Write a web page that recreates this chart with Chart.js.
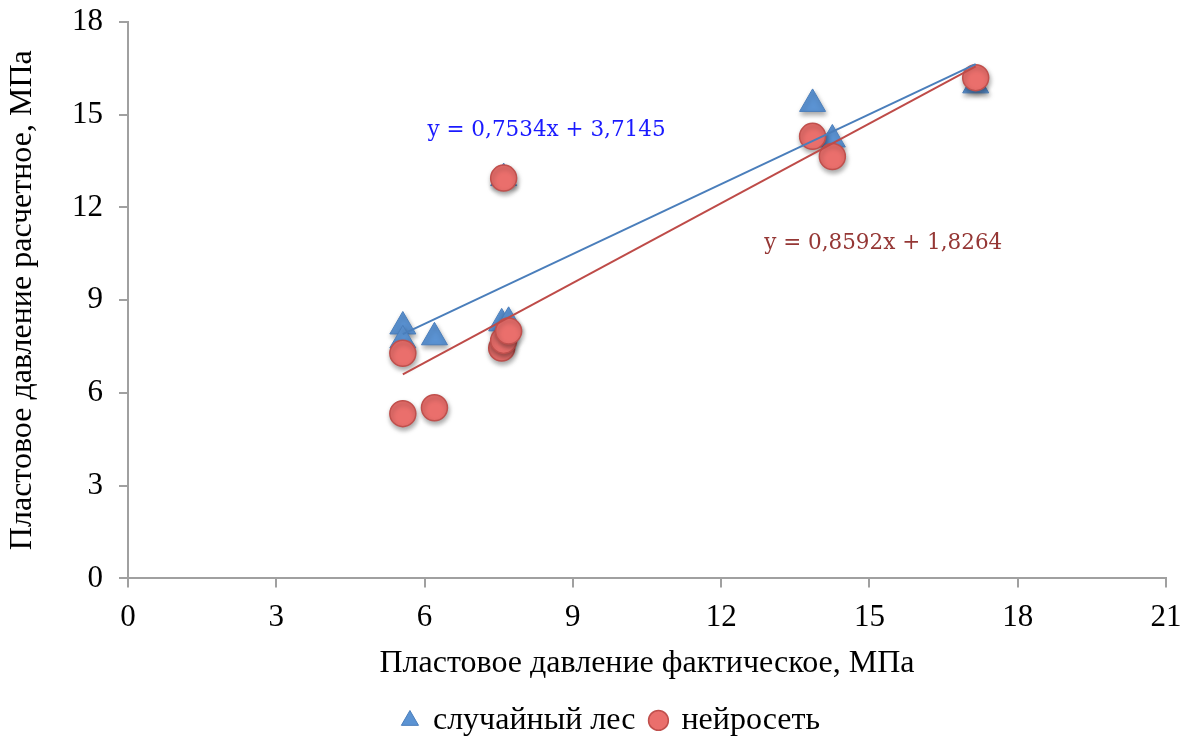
<!DOCTYPE html>
<html>
<head>
<meta charset="utf-8">
<script src="https://cdn.jsdelivr.net/npm/chart.js@4.4.1/dist/chart.umd.min.js"></script>
<style>
  html, body { margin: 0; padding: 0; background: #fff; }
  #wrap { width: 1182px; height: 738px; }
</style>
</head>
<body>
<div id="wrap"><canvas id="myChart"></canvas></div>
<script>
// data
const forestX = [5.56, 5.56, 6.2, 7.56, 7.7, 7.6, 13.85, 14.25, 17.15];
const forestY = [8.15, 7.7, 7.8, 8.25, 8.3, 12.95, 15.35, 14.2, 15.95];
const netX = [5.56, 5.56, 6.2, 7.56, 7.6, 7.7, 7.6, 13.85, 14.25, 17.15];
const netY = [7.28, 5.33, 5.52, 7.45, 7.7, 8.0, 12.95, 14.3, 13.65, 16.2];

// trendline coefficients from the chart labels
const forestFit = [0.7534, 3.7145];
const netFit = [0.8592, 1.8264];

const xTicks = [0, 3, 6, 9, 12, 15, 18, 21];
const yTicks = [0, 3, 6, 9, 12, 15, 18];

const toPoints = (xs, ys) => xs.map((x, i) => ({ x: x, y: ys[i] }));
const fitLine = (xs, k) => {
  let lo = Math.min(...xs), hi = Math.max(...xs);
  return [{ x: lo, y: k[0] * lo + k[1] }, { x: hi, y: k[0] * hi + k[1] }];
};
const eqText = k => 'y = ' + k[0].toFixed(4).replace('.', ',') + 'x + ' + k[1].toFixed(4).replace('.', ',');

const serif = '"Liberation Serif", "Times New Roman", serif';

// soft shadow under the markers
const shadowPlugin = {
  id: 'shadow',
  beforeDatasetDraw(chart, args) {
    if (chart.data.datasets[args.index].showLine) return;
    const ctx = chart.ctx;
    ctx.save();
    ctx.shadowColor = 'rgba(0,0,0,0.35)';
    ctx.shadowBlur = 5;
    ctx.shadowOffsetX = 1;
    ctx.shadowOffsetY = 3;
  },
  afterDatasetDraw(chart, args) {
    if (chart.data.datasets[args.index].showLine) return;
    chart.ctx.restore();
  }
};

const eqPlugin = {
  id: 'equations',
  afterDatasetsDraw(chart) {
    const ctx = chart.ctx;
    const xs = chart.scales.x, ys = chart.scales.y;
    ctx.save();
    ctx.font = '21.5px "DejaVu Serif", serif';
    ctx.textBaseline = 'middle';
    ctx.fillStyle = '#1a1aff';
    ctx.fillText(eqText(forestFit), xs.getPixelForValue(6.06), ys.getPixelForValue(14.5));
    ctx.fillStyle = '#953735';
    ctx.fillText(eqText(netFit), xs.getPixelForValue(12.87), ys.getPixelForValue(10.85));
    ctx.restore();
  }
};

const data = {
  datasets: [{
    label: 'случайный лес',
    data: toPoints(forestX, forestY),
    pointStyle: 'triangle',
    pointRadius: 15,
    backgroundColor: '#5b93d3',
    borderColor: '#4a7ebb',
    borderWidth: 1,
    order: 3
  }, {
    label: 'нейросеть',
    data: toPoints(netX, netY),
    pointStyle: 'circle',
    pointRadius: 13,
    backgroundColor: '#ea6f6c',
    borderColor: '#c0504d',
    borderWidth: 1.5,
    order: 2
  }, {
    label: 'fit1',
    data: fitLine(forestX, forestFit),
    showLine: true,
    pointRadius: 0,
    borderColor: '#4a7ebb',
    borderWidth: 2,
    order: 1
  }, {
    label: 'fit2',
    data: fitLine(netX, netFit),
    showLine: true,
    pointRadius: 0,
    borderColor: '#be4b48',
    borderWidth: 2,
    order: 1
  }]
};

const axisGrid = {
  drawOnChartArea: false,
  drawTicks: true,
  tickLength: 9,
  color: '#a0a0a0',
  lineWidth: 2
};

const config = {
  type: 'scatter',
  data: data,
  options: {
    responsive: true,
    maintainAspectRatio: false,
    animation: false,
    // left padding only re-centres the legend; the y axis box is narrowed to match
    layout: { padding: { top: 22, right: 15, left: 56, bottom: -8.4 } },
    scales: {
      x: {
        type: 'linear',
        min: 0,
        max: 21,
        afterBuildTicks: s => { s.ticks = xTicks.map(v => ({ value: v })); },
        afterFit: s => { s.height = 110; s.paddingLeft = 0; s.paddingRight = 0; },
        grid: axisGrid,
        border: { color: '#a0a0a0', width: 2 },
        ticks: { color: '#000', font: { family: serif, size: 31 }, padding: 12 },
        title: {
          display: true,
          text: 'Пластовое давление фактическое, МПа',
          color: '#000',
          font: { family: serif, size: 32 },
          padding: { top: 0, bottom: 6 }
        }
      },
      y: {
        type: 'linear',
        min: 0,
        max: 18,
        afterBuildTicks: s => { s.ticks = yTicks.map(v => ({ value: v })); },
        afterFit: s => { s.width = 72; s.paddingTop = 0; s.paddingBottom = 0; },
        grid: axisGrid,
        border: { color: '#a0a0a0', width: 2 },
        ticks: { color: '#000', font: { family: serif, size: 31 }, padding: 16 },
        title: {
          display: true,
          text: 'Пластовое давление расчетное, МПа',
          color: '#000',
          font: { family: serif, size: 32 },
          padding: { top: -53, bottom: 0 }
        }
      }
    },
    plugins: {
      tooltip: { enabled: false },
      legend: {
        position: 'bottom',
        labels: {
          usePointStyle: true,
          color: '#000',
          font: { family: serif, size: 32 },
          boxWidth: 14,
          boxHeight: 14,
          padding: 16,
          filter: item => item.datasetIndex < 2,
          sort: (a, b) => a.datasetIndex - b.datasetIndex
        }
      }
    }
  },
  plugins: [shadowPlugin, eqPlugin]
};

const myChart = new Chart(document.getElementById('myChart'), config);
</script>
</body>
</html>
